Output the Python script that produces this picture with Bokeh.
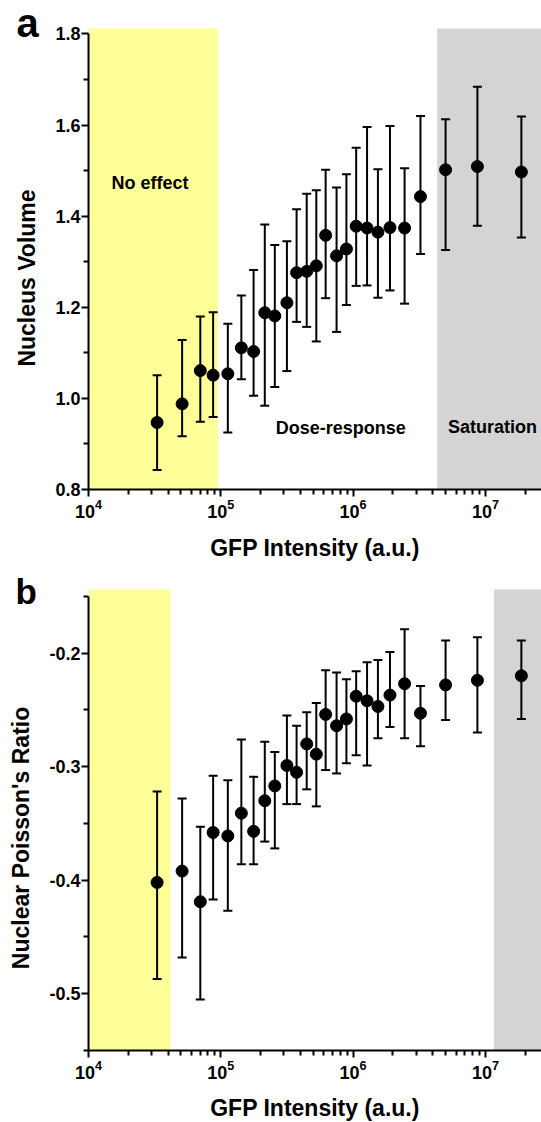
import math
from bokeh.plotting import figure
from bokeh.layouts import column
from bokeh.models import (ColumnDataSource, FixedTicker, NumeralTickFormatter,
                          BoxAnnotation, Label, LogTickFormatter)
from bokeh.embed import file_html
from bokeh.resources import INLINE

# ---------------- data ----------------
gfp = [3.3e4, 5.1e4, 7.0e4, 8.75e4, 1.13e5, 1.43e5, 1.77e5, 2.15e5, 2.56e5,
       3.16e5, 3.74e5, 4.46e5, 5.27e5, 6.2e5, 7.5e5, 8.9e5, 1.055e6, 1.275e6,
       1.54e6, 1.9e6, 2.45e6, 3.23e6, 5.0e6, 8.7e6, 1.87e7]

vol_mean = [0.947, 0.988, 1.061, 1.051, 1.054, 1.111, 1.103, 1.188, 1.181,
            1.210, 1.276, 1.279, 1.291, 1.358, 1.313, 1.328, 1.378, 1.374,
            1.365, 1.375, 1.374, 1.443, 1.502, 1.509, 1.497]
vol_upper = [1.051, 1.128, 1.180, 1.189, 1.164, 1.226, 1.282, 1.382, 1.337,
             1.345, 1.415, 1.449, 1.457, 1.502, 1.463, 1.492, 1.550, 1.596,
             1.503, 1.598, 1.505, 1.620, 1.613, 1.684, 1.619]
vol_lower = [0.843, 0.917, 0.949, 0.959, 0.925, 1.042, 1.006, 0.984, 1.025,
             1.060, 1.168, 1.157, 1.125, 1.220, 1.146, 1.205, 1.247, 1.248,
             1.221, 1.237, 1.208, 1.317, 1.326, 1.379, 1.353]

pr_mean = [-0.402, -0.392, -0.419, -0.358, -0.361, -0.341, -0.357, -0.330, -0.317,
           -0.299, -0.305, -0.280, -0.289, -0.254, -0.264, -0.258, -0.238, -0.242,
           -0.247, -0.237, -0.227, -0.253, -0.228, -0.224, -0.220]
pr_upper = [-0.322, -0.328, -0.353, -0.308, -0.312, -0.276, -0.309, -0.278, -0.287,
            -0.255, -0.264, -0.252, -0.244, -0.215, -0.217, -0.223, -0.216, -0.208,
            -0.206, -0.199, -0.179, -0.229, -0.189, -0.186, -0.189]
pr_lower = [-0.487, -0.468, -0.505, -0.417, -0.427, -0.386, -0.386, -0.366, -0.372,
            -0.333, -0.333, -0.320, -0.335, -0.303, -0.306, -0.297, -0.290, -0.299,
            -0.275, -0.265, -0.275, -0.282, -0.259, -0.270, -0.258]

x_major = [1e4, 1e5, 1e6, 1e7]
vol_ticks = [0.8, 1.0, 1.2, 1.4, 1.6, 1.8]
vol_minor = [0.9, 1.1, 1.3, 1.5, 1.7]
pr_ticks = [-0.5, -0.4, -0.3, -0.2]
pr_minor = [-0.55, -0.45, -0.35, -0.25, -0.15]

# shaded regions (x extents)
yellow_a = (1e4, 9.5e4)
gray_a = (4.32e6, 3e7)
yellow_b = (1e4, 4.17e4)
gray_b = (1.16e7, 3e7)

XMIN_AX = 1e4
XMAX = 10 ** 7.424
XMIN_VIEW = 10 ** 3.3348
FONT = "Liberation Sans"
YELLOW = "#FFFF99"
GRAY = "#D4D4D4"

x_minor = [m * 10 ** e for e in range(4, 8) for m in range(2, 10) if m * 10 ** e <= XMAX]


def make(height, yview, yticks, yminor, ybounds):
    p = figure(width=541, height=height, x_axis_type="log", x_range=(XMIN_VIEW, XMAX),
               y_range=yview, output_backend="svg", toolbar_location=None,
               min_border=0)
    p.grid.visible = False
    p.outline_line_color = None
    p.background_fill_color = "white"
    p.xaxis.ticker = FixedTicker(ticks=x_major, minor_ticks=x_minor)
    p.xaxis.formatter = LogTickFormatter()
    p.xaxis.bounds = (XMIN_AX, XMAX)
    p.xaxis.fixed_location = ybounds[0]
    p.yaxis.ticker = FixedTicker(ticks=yticks, minor_ticks=yminor)
    p.yaxis.formatter = NumeralTickFormatter(format="0.0")
    p.yaxis.bounds = ybounds
    p.yaxis.fixed_location = XMIN_AX
    for ax in (p.xaxis, p.yaxis):
        ax.axis_line_width = 2
        ax.axis_line_color = "black"
        ax.major_tick_line_width = 2
        ax.minor_tick_line_width = 2
        ax.major_tick_line_color = "black"
        ax.minor_tick_line_color = "black"
        ax.major_tick_in = 0
        ax.major_tick_out = 7
        ax.minor_tick_in = 0
        ax.minor_tick_out = 5
        ax.major_label_text_font = FONT
        ax.major_label_text_font_size = "18px"
        ax.major_label_text_font_style = "bold"
        ax.major_label_text_color = "black"
    p.yaxis.major_label_standoff = 1
    p.xaxis.major_label_standoff = 2
    return p


def bands(p, yellow, gray, ybot, ytop):
    p.add_layout(BoxAnnotation(left=yellow[0], right=yellow[1], bottom=ybot, top=ytop,
                               fill_color=YELLOW, fill_alpha=1, line_alpha=0, level="underlay"))
    p.add_layout(BoxAnnotation(left=gray[0], right=gray[1], bottom=ybot, top=ytop,
                               fill_color=GRAY, fill_alpha=1, line_alpha=0, level="underlay"))


def draw(p, mean, upper, lower):
    src = ColumnDataSource(dict(x=gfp, m=mean, u=upper, l=lower))
    p.segment(x0="x", y0="l", x1="x", y1="u", source=src, line_width=2, line_color="black")
    p.scatter(x="x", y="u", source=src, marker="dash", size=9, line_width=2, line_color="black")
    p.scatter(x="x", y="l", source=src, marker="dash", size=9, line_width=2, line_color="black")
    p.scatter(x="x", y="m", source=src, marker="circle", size=12, fill_color="black", line_color="black")


def lab(p, x, y, text, size, align="center", angle=0.0):
    p.add_layout(Label(x=x, y=y, text=text, text_font=FONT, text_font_size=size,
                       text_font_style="bold", text_color="black", text_align=align,
                       text_baseline="alphabetic", angle=angle))


# ---------------- panel a ----------------
p1 = make(568, (0.6266, 1.8735), vol_ticks, vol_minor, (0.8, 1.8))
bands(p1, yellow_a, gray_a, 0.8, 1.812)
draw(p1, vol_mean, vol_upper, vol_lower)
lab(p1, 2.92e4, 1.4728, "No effect", "18px")
lab(p1, 8.07e5, 0.9348, "Dose-response", "18px")
lab(p1, 1.13e7, 0.9368, "Saturation", "18px")
lab(p1, 10 ** 5.712, 0.6726, "GFP Intensity (a.u.)", "23px")
lab(p1, 10 ** 3.5314, 1.2643, "Nucleus Volume", "23px", angle=math.pi / 2)
lab(p1, 10 ** 3.455, 1.8231, "a", "40px", align="left")

# ---------------- panel b ----------------
p2 = make(554, (-0.6134, -0.1255), pr_ticks, pr_minor, (-0.55, -0.15))
bands(p2, yellow_b, gray_b, -0.55, -0.144)
draw(p2, pr_mean, pr_upper, pr_lower)
lab(p2, 10 ** 5.712, -0.601, "GFP Intensity (a.u.)", "23px")
lab(p2, 10 ** 3.486, -0.3628, "Nuclear Poisson's Ratio", "23px", angle=math.pi / 2)
lab(p2, 10 ** 3.448, -0.1457, "b", "35px", align="left")

layout = column(p1, p2)
open("out.html", "w").write(file_html(layout, INLINE))
